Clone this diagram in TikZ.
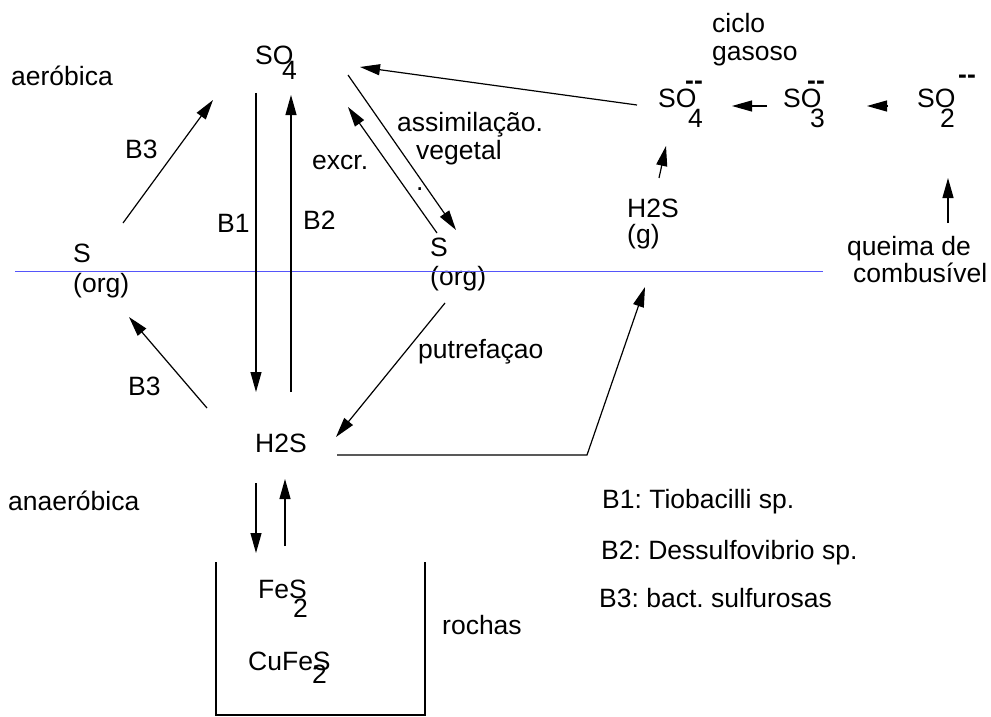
\documentclass[tikz,border=0pt]{standalone}
\usepackage{fontspec}
\setmainfont{Liberation Sans}
\usetikzlibrary{arrows.meta}
\frenchspacing
\begin{document}
\begin{tikzpicture}[x=1pt,y=-1pt,
  lbl/.style={anchor=base west, inner sep=0pt, font=\fontsize{26.5}{30}\selectfont},
  chg/.style={lbl, font=\fontsize{26.5}{30}\selectfont\bfseries},
  arr/.style={line width=1.2pt, -{Triangle[length=20pt,width=11pt]}},
  ln/.style={line width=1.2pt},
  sep/.style={line width=0.9pt, draw={rgb,255:red,85;green,85;blue,250}}]
\useasboundingbox (0,0) rectangle (991,717);
% zone labels
\node[lbl] (aer) at (11,85) {aeróbica};
\node[lbl] (anaer) at (8,510) {anaeróbica};
% top SO4
\node[lbl] (so4a) at (255,65) {SO};
\node[lbl] (so4ai) at (282,80) {4};
% gaseous cycle
\node[lbl] (ciclo) at (712,33) {ciclo};
\node[lbl] (gasoso) at (712,61) {gasoso};
\node[lbl] (so4g) at (658,107) {SO};
\node[lbl] (so4gi) at (688,128) {4};
\node[chg] (so4gm) at (685,89) {-{}-};
\node[lbl] (so3) at (783,107) {SO};
\node[lbl] (so3i) at (810,128) {3};
\node[chg] (so3m) at (807,89) {-{}-};
\node[lbl] (so2) at (917,107) {SO};
\node[lbl] (so2i) at (940,128) {2};
\node[chg] (so2m) at (958,84) {-{}-};
\node[lbl] (h2sg) at (627,217) {H2S};
\node[lbl] (g) at (627,243) {(g)};
\node[lbl] (queima) at (847,255) {queima de};
\node[lbl] (comb) at (853,282) {combusível};
% organic S
\node[lbl] (sl) at (73,262) {S};
\node[lbl] (slo) at (73,292) {(org)};
\node[lbl] (sr) at (430,256) {S};
\node[lbl] (sro) at (430,285) {(org)};
% arrow labels
\node[lbl] (b3u) at (125,158) {B3};
\node[lbl] (b1) at (217,232) {B1};
\node[lbl] (b2) at (303,229) {B2};
\node[lbl] (b3l) at (128,395) {B3};
\node[lbl] (excr) at (312,169) {excr.};
\node[lbl] (assim) at (397,131) {assimilação.};
\node[lbl] (veg) at (416,159) {vegetal};
\node[lbl] (dot) at (416,190) {.};
\node[lbl] (putr) at (418,358) {putrefaçao};
% H2S and rocks
\node[lbl] (h2s) at (255,452) {H2S};
\node[lbl] (fes) at (258,598) {FeS};
\node[lbl] (fesi) at (293,617) {2};
\node[lbl] (cufes) at (248,670) {CuFeS};
\node[lbl] (cufesi) at (312,683) {2};
\node[lbl] (rochas) at (442,634) {rochas};
% legend
\node[lbl] (l1) at (602,508) {B1: Tiobacilli sp.};
\node[lbl] (l2) at (601,559) {B2: Dessulfovibrio sp.};
\node[lbl] (l3) at (599,607) {B3: bact. sulfurosas};
% connector end points
\coordinate (b1s) at (256,93);   \coordinate (b1e) at (256,392);
\coordinate (b2s) at (291,392);  \coordinate (b2e) at (291,95);
\coordinate (b3us) at (123,223); \coordinate (b3ue) at (213,100);
\coordinate (b3ls) at (207,408); \coordinate (b3le) at (129,317);
\coordinate (as) at (348,75);    \coordinate (ae) at (456,230);
\coordinate (es) at (437,233);   \coordinate (ee) at (348,107);
\coordinate (ps) at (445,303);   \coordinate (pe) at (336,437);
\coordinate (gs) at (637,105);   \coordinate (ge) at (360,67);
\coordinate (s3s) at (767,106);  \coordinate (s3e) at (732,106);
\coordinate (s2s) at (888,106);  \coordinate (s2e) at (867,106);
\coordinate (hgs) at (659,178);  \coordinate (hge) at (666,146);
\coordinate (qs) at (948,223);   \coordinate (qe) at (948,178);
\coordinate (hs) at (337,455);   \coordinate (hk) at (587,455);
\coordinate (he) at (645,287);
\coordinate (rds) at (256,483);  \coordinate (rde) at (256,553);
\coordinate (rus) at (285,546);  \coordinate (rue) at (285,479);
\coordinate (bx1) at (216,562);  \coordinate (bx2) at (216,715);
\coordinate (bx3) at (425,715);  \coordinate (bx4) at (425,562);
\coordinate (sepl) at (15,271);  \coordinate (sepr) at (823,271);
% separator
\draw[sep] (sepl) -- (sepr);
% arrows
\draw[arr] (b1s) -- (b1e);
\draw[arr] (b2s) -- (b2e);
\draw[arr] (b3us) -- (b3ue);
\draw[arr] (b3ls) -- (b3le);
\draw[arr] (as) -- (ae);
\draw[arr] (es) -- (ee);
\draw[arr] (ps) -- (pe);
\draw[arr] (gs) -- (ge);
\draw[arr] (s3s) -- (s3e);
\draw[arr] (s2s) -- (s2e);
\draw[arr] (hgs) -- (hge);
\draw[arr] (qs) -- (qe);
\draw[arr] (hs) -- (hk) -- (he);
\draw[arr] (rds) -- (rde);
\draw[arr] (rus) -- (rue);
\draw[ln] (bx1) -- (bx2) -- (bx3) -- (bx4);
\end{tikzpicture}
\end{document}
